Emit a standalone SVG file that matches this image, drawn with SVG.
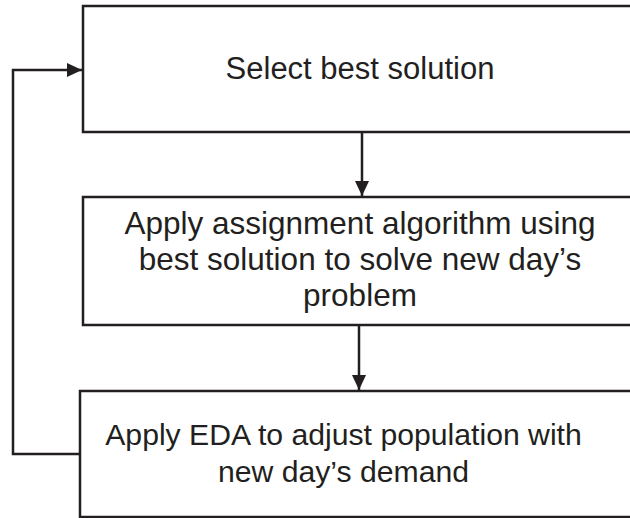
<svg xmlns="http://www.w3.org/2000/svg" width="630" height="518" viewBox="0 0 630 518">
<style>
.box{fill:#fff;stroke:#231f20;stroke-width:2.5}
.lbl{font-family:"Liberation Sans",Arial,sans-serif;fill:#231f20;text-anchor:middle}
.edge{fill:none;stroke:#231f20;stroke-width:2.5}
</style>
<defs>
<marker id="ah" markerWidth="16" markerHeight="14" refX="15" refY="7" orient="auto" markerUnits="userSpaceOnUse">
<path d="M0,0 L15,7 L0,14 Z" fill="#231f20"/>
</marker>
</defs>
<rect width="630" height="518" fill="#fff"/>
<g id="n1">
<rect class="box" x="83" y="6" width="560" height="126"/>
<text class="lbl" x="360" y="79" font-size="31">Select best solution</text>
</g>
<g id="n2">
<rect class="box" x="83" y="197" width="560" height="128"/>
<text class="lbl" x="360" y="234" font-size="31.5">Apply assignment algorithm using</text>
<text class="lbl" x="360" y="270" font-size="31.5">best solution to solve new day’s</text>
<text class="lbl" x="360" y="306" font-size="31.5">problem</text>
</g>
<g id="n3">
<rect class="box" x="80" y="391" width="560" height="126"/>
<text class="lbl" x="343.5" y="445" font-size="30.2">Apply EDA to adjust population with</text>
<text class="lbl" x="343.5" y="482" font-size="30.2">new day’s demand</text>
</g>
<g id="connectors">
<line class="edge" x1="362" y1="132" x2="362" y2="196" marker-end="url(#ah)"/>
<line class="edge" x1="359" y1="325" x2="359" y2="390" marker-end="url(#ah)"/>
<polyline class="edge" points="80,454 13,454 13,70 82,70" marker-end="url(#ah)"/>
</g>
</svg>
